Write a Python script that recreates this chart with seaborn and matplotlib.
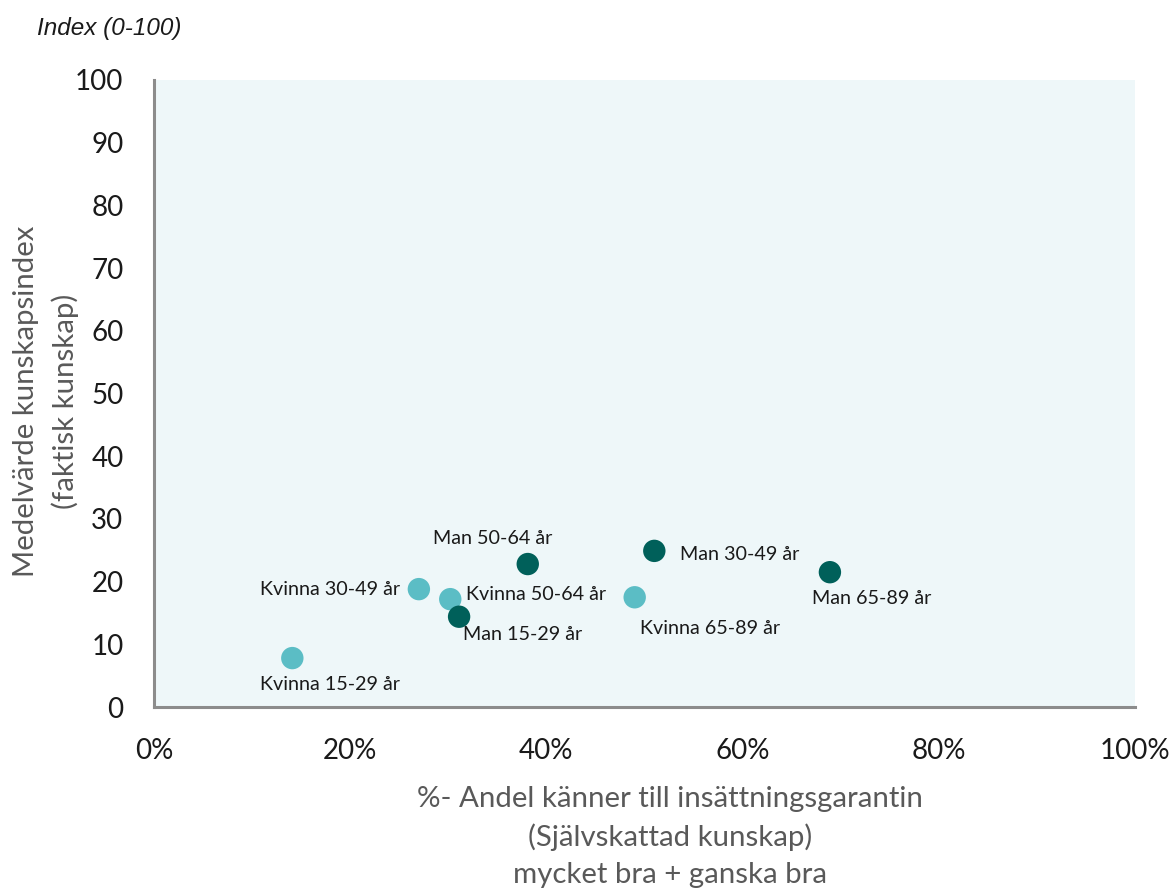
import matplotlib
matplotlib.use("Agg")
import matplotlib.pyplot as plt
import seaborn as sns
import pandas as pd

labels = ["Kvinna 15-29 år", "Kvinna 30-49 år", "Kvinna 50-64 år", "Man 15-29 år",
          "Man 50-64 år", "Man 30-49 år", "Kvinna 65-89 år", "Man 65-89 år"]
groups = ["Kvinna", "Kvinna", "Kvinna", "Man", "Man", "Man", "Kvinna", "Man"]
share_pct = [14.1, 27.0, 30.2, 31.1, 38.1, 51.0, 49.0, 68.9]
index_val = [7.8, 18.8, 17.2, 14.4, 22.8, 24.9, 17.5, 21.5]
x_ticks = [0, 20, 40, 60, 80, 100]
x_ticklabels = ["0%", "20%", "40%", "60%", "80%", "100%"]
y_ticks = [0, 10, 20, 30, 40, 50, 60, 70, 80, 90, 100]

df = pd.DataFrame({"label": labels, "group": groups, "x": share_pct, "y": index_val})

sns.set_theme(style="white")
plt.rcParams['font.family'] = ['Lato', 'DejaVu Sans']

fig = plt.figure(figsize=(11.74, 8.92), dpi=100)
ax = fig.add_axes([154/1174, 1-707/892, (1135-154)/1174, (707-80)/892])
ax.set_facecolor("#EEF7F9")

palette = {"Kvinna": "#5BBDC5", "Man": "#00605A"}
sns.scatterplot(data=df, x="x", y="y", hue="group", palette=palette, s=260,
                edgecolor="none", legend=False, ax=ax, zorder=3)

# label offsets in pixels (style only)
offsets = {
    "Kvinna 15-29 år": (-32, -26, "left"),
    "Kvinna 30-49 år": (-19, 0, "right"),
    "Kvinna 50-64 år": (16, 5, "left"),
    "Man 15-29 år": (4, -18, "left"),
    "Man 50-64 år": (-95, 26, "left"),
    "Man 30-49 år": (26, -4, "left"),
    "Kvinna 65-89 år": (5, -31, "left"),
    "Man 65-89 år": (-18, -26, "left"),
}
for _, r in df.iterrows():
    dx, dy, ha = offsets[r["label"]]
    ax.annotate(r["label"], (r["x"], r["y"]), xytext=(dx, dy), textcoords="offset pixels",
                ha=ha, va="center", fontsize=14.2, color="#1a1a1a", zorder=4)

ax.set_xlim(0, 100)
ax.set_ylim(0, 100)
ax.set_xticks(x_ticks)
ax.set_xticklabels(x_ticklabels)
ax.set_yticks(y_ticks)
ax.tick_params(axis="both", length=0, labelsize=20, colors="#1a1a1a")
ax.tick_params(axis="x", pad=22)
ax.tick_params(axis="y", pad=22)

for s in ["top", "right"]:
    ax.spines[s].set_visible(False)
for s in ["left", "bottom"]:
    ax.spines[s].set_color("#8c8c8c")
    ax.spines[s].set_linewidth(2.2)

ax.set_xlabel("%- Andel känner till insättningsgarantin\n(Självskattad kunskap)\nmycket bra + ganska bra",
              fontsize=21.2, color="#595959", linespacing=1.52)
ax.xaxis.set_label_coords((670-154)/981, -(786-707)/627)
ax.xaxis.label.set_va("top")
ax.set_ylabel("Medelvärde kunskapsindex\n(faktisk kunskap)", fontsize=21.2, color="#595959",
              linespacing=1.55)
ax.yaxis.set_label_coords(-(154-46)/981, (707-401)/627)
ax.yaxis.label.set_va("center")

fig.text(37/1174, 1-28/892, "Index (0-100)", fontsize=17.5, style="italic",
         family=["Liberation Sans", "DejaVu Sans"], color="#1a1a1a", va="center", ha="left")

fig.savefig("out.png", dpi=100)
